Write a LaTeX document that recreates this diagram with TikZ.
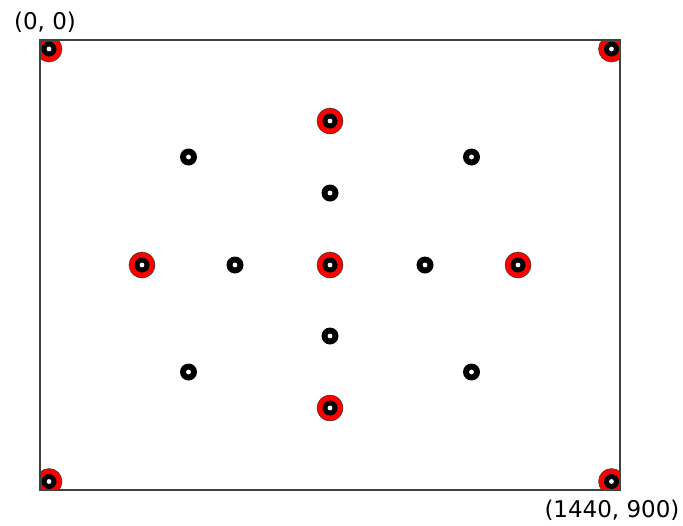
\documentclass[tikz,border=0pt]{standalone}
\usepackage{fontspec}
\setmainfont{DejaVu Sans}
\usetikzlibrary{positioning}

\begin{document}
\begin{tikzpicture}[
    x=1pt, y=-1pt,
    frame/.style={rectangle, draw=black!75, line width=1.1pt, minimum width=579.5pt, minimum height=449.5pt, inner sep=0pt},
    bigmark/.style={circle, draw=black!80, fill=red, line width=0.5pt, minimum size=26pt, inner sep=0pt,
        path picture={\fill[black] (path picture bounding box.center) circle (7.5pt);
                      \fill[white] (path picture bounding box.center) circle (2.4pt);}},
    smallmark/.style={circle, fill=black, minimum size=17pt, inner sep=0pt,
        path picture={\fill[white] (path picture bounding box.center) circle (2.4pt);}},
    cornerlbl/.style={font=\fontsize{23}{27}\selectfont, inner sep=0pt}
]
\useasboundingbox (0,0) rectangle (683,525);
% ----- frame -----
\node[frame] (frame) at (330.25,265.25) {};
% ----- corner markers, cut by the frame -----
\begin{scope}
\clip (frame.north west) rectangle (frame.south east);
\node[bigmark] (c1) at (49,49) {};
\node[bigmark] (c2) at (611.5,49) {};
\node[bigmark] (c3) at (49,481.5) {};
\node[bigmark] (c4) at (611.5,481.5) {};
\end{scope}
\draw[black!75, line width=1.1pt] (frame.north west) rectangle (frame.south east);
% ----- inner markers -----
\foreach \n/\x/\y in {r1/330/121, r2/142/265, r3/330/265, r4/518/265, r5/330/408}
  \node[bigmark] (\n) at (\x,\y) {};
\foreach \n/\x/\y in {b1/188.5/157, b2/471.5/157, b3/330/193, b4/235/265, b5/425/265, b6/330/336, b7/188.5/372, b8/471.5/372}
  \node[smallmark] (\n) at (\x,\y) {};
% ----- labels -----
\node[cornerlbl, anchor=center] (origin) at (45,22) {(0, 0)};
\node[cornerlbl, anchor=center] (extent) at (612,510) {(1440, 900)};
\end{tikzpicture}
\end{document}
